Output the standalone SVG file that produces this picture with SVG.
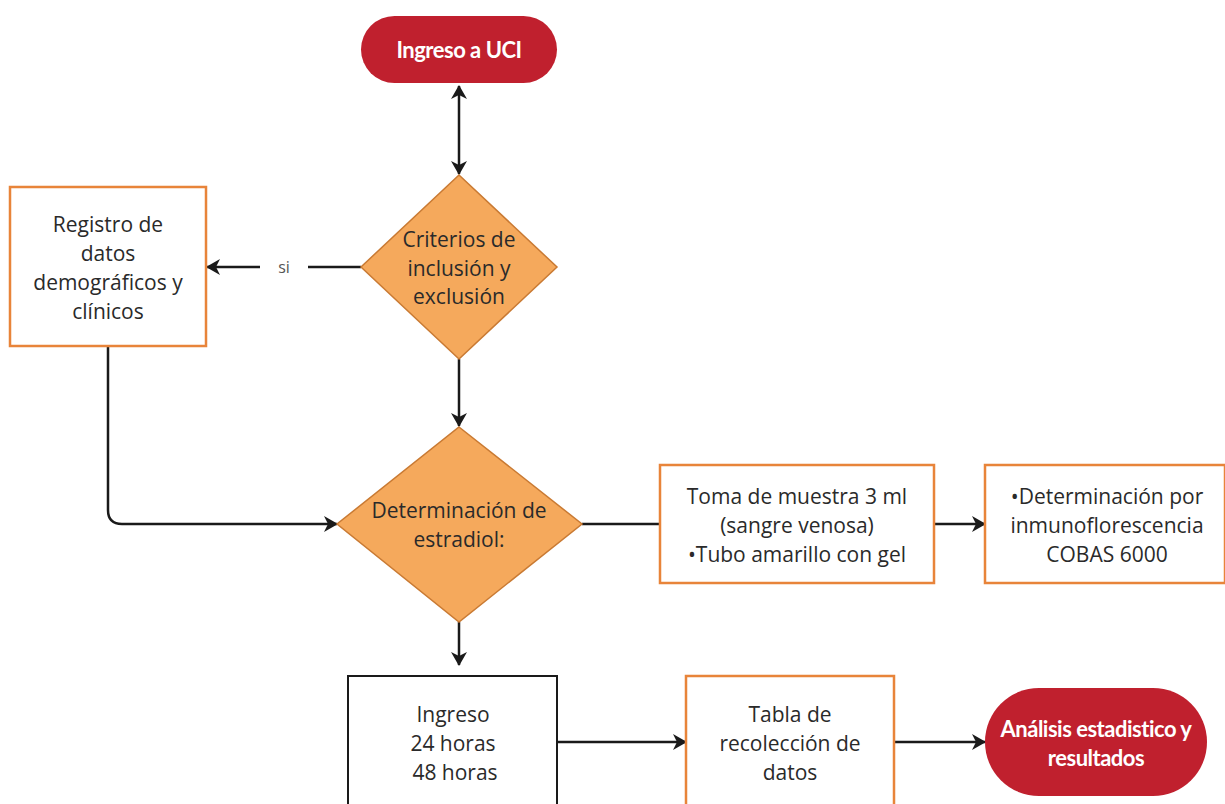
<svg xmlns="http://www.w3.org/2000/svg" width="1225" height="804" viewBox="0 0 1225 804">
<defs>
<marker id="ah" viewBox="0 0 14 16" refX="13" refY="8" markerWidth="14" markerHeight="16" markerUnits="userSpaceOnUse" orient="auto-start-reverse">
<path d="M0,0 L14,8 L0,16 L4,8 Z" fill="#1a1a1a"/>
</marker>
<style>
.t{font-family:"Open Sans","Noto Sans",sans-serif;font-size:21px;fill:#2a2a2a;text-anchor:middle}
.w{font-family:Lato,"Liberation Sans",sans-serif;font-size:22px;font-weight:bold;fill:#fff;text-anchor:middle;letter-spacing:-0.5px}
.pill{fill:#c0202e}
.dia{fill:#f5a95c;stroke:#c97a33;stroke-width:1.5}
.box{fill:#fff;stroke:#e8843a;stroke-width:2.5}
.bbox{fill:#fff;stroke:#1a1a1a;stroke-width:2}
.c{fill:none;stroke:#1a1a1a;stroke-width:2.5}
</style>
</defs>
<rect width="1225" height="804" fill="#fff"/>
<g id="connectors">
<path class="c" d="M459,86 L459,174" marker-start="url(#ah)" marker-end="url(#ah)"/>
<path class="c" d="M361,267 L308,267"/>
<path class="c" d="M260,267 L207,267" marker-end="url(#ah)"/>
<text class="t" x="284" y="273" style="font-size:16px;fill:#555">si</text>
<path class="c" d="M459,359 L459,426" marker-end="url(#ah)"/>
<path class="c" d="M108,346 L108,510 Q108,524 122,524 L337,524" marker-end="url(#ah)"/>
<path class="c" d="M582,524 L660,524"/>
<path class="c" d="M934,524 L985,524" marker-end="url(#ah)"/>
<path class="c" d="M459,622 L459,665" marker-end="url(#ah)"/>
<path class="c" d="M557,742 L686,742" marker-end="url(#ah)"/>
<path class="c" d="M894,742 L985,742" marker-end="url(#ah)"/>
</g>
<g id="ingreso-uci">
<rect class="pill" x="361" y="16" width="196" height="67" rx="33.5"/>
<text class="w" x="459" y="58">Ingreso a UCI</text>
</g>
<g id="criterios">
<polygon class="dia" points="459,175 557,267 459,359 361,267"/>
<text class="t" x="459" y="247">Criterios de</text>
<text class="t" x="459" y="276">inclusión y</text>
<text class="t" x="459" y="304">exclusión</text>
</g>
<g id="registro">
<rect class="box" x="10" y="187" width="196" height="159"/>
<text class="t" x="108" y="232">Registro de</text>
<text class="t" x="108" y="261">datos</text>
<text class="t" x="108" y="290">demográficos y</text>
<text class="t" x="108" y="319">clínicos</text>
</g>
<g id="estradiol">
<polygon class="dia" points="459,427 582,524 459,622 337,524"/>
<text class="t" x="459" y="518">Determinación de</text>
<text class="t" x="459" y="547">estradiol:</text>
</g>
<g id="toma">
<rect class="box" x="660" y="465" width="274" height="118"/>
<text class="t" x="797" y="504">Toma de muestra 3 ml</text>
<text class="t" x="797" y="533">(sangre venosa)</text>
<text class="t" x="797" y="562">•Tubo amarillo con gel</text>
</g>
<g id="determinacion">
<rect class="box" x="985" y="465" width="240" height="118"/>
<text class="t" x="1107" y="504">•Determinación por</text>
<text class="t" x="1107" y="533">inmunoflorescencia</text>
<text class="t" x="1107" y="562">COBAS 6000</text>
</g>
<g id="ingreso-horas">
<rect class="bbox" x="348" y="676" width="209" height="140"/>
<text class="t" x="453" y="722">Ingreso</text>
<text class="t" x="453" y="751">24 horas</text>
<text class="t" x="455" y="780">48 horas</text>
</g>
<g id="tabla">
<rect class="box" x="686" y="676" width="208" height="140"/>
<text class="t" x="790" y="722">Tabla de</text>
<text class="t" x="790" y="751">recolección de</text>
<text class="t" x="790" y="780">datos</text>
</g>
<g id="analisis">
<rect class="pill" x="985" y="688" width="222" height="108" rx="54"/>
<text class="w" x="1096" y="737">Análisis estadistico y</text>
<text class="w" x="1096" y="766">resultados</text>
</g>
</svg>
